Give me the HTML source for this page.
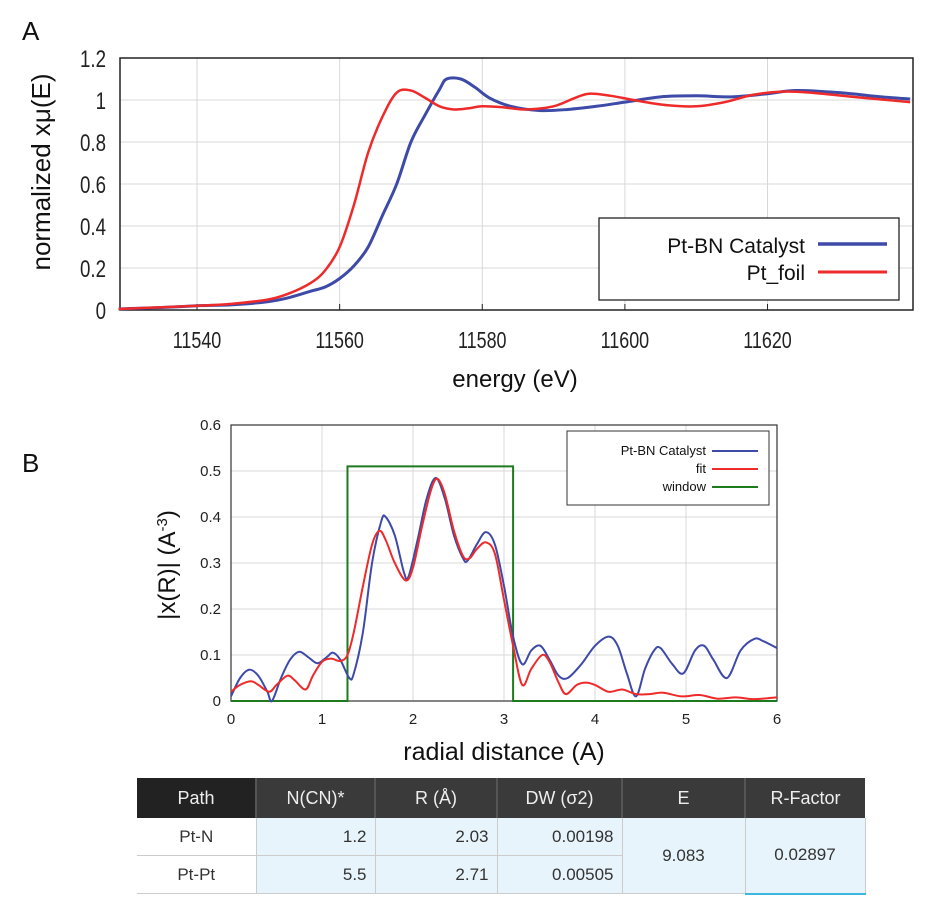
<!DOCTYPE html>
<html><head><meta charset="utf-8"><style>
body{margin:0;background:#fff;width:944px;height:915px;overflow:hidden;font-family:"Liberation Sans",sans-serif}
svg{position:absolute;left:0;top:0}
table{position:absolute;left:137px;top:778px;width:728px;table-layout:fixed;border-collapse:collapse;font-family:"Liberation Sans",sans-serif;font-size:17px;color:#333}
th{background:#3a3a3a;color:#eee;font-weight:normal;height:40px;padding:0;border-right:2px solid #555;font-size:18px}
th:first-child{background:#222}
td{height:37px;padding:0 8px 0 0;border-bottom:1px solid #ccc;border-right:1px solid #ccc;background:#e8f4fb;text-align:right}
td.p{background:#fff;text-align:center;padding:0}
td.c{text-align:center;padding:0}
</style></head><body>
<svg width="944" height="770" id="svg">
<text x="22" y="40" font-size="26" fill="#111">A</text>
<text x="22" y="472" font-size="26" fill="#111">B</text>
<g id="ga"></g>
<g id="gb"></g>
</svg>
<table>
<colgroup><col style="width:119px"><col style="width:119px"><col style="width:122px"><col style="width:125px"><col style="width:123px"><col style="width:120px"></colgroup>
<tr><th>Path</th><th>N(CN)*</th><th>R (Å)</th><th>DW (σ2)</th><th>E</th><th style="border-right:none">R-Factor</th></tr>
<tr><td class="p">Pt-N</td><td>1.2</td><td>2.03</td><td>0.00198</td><td class="c" rowspan="2">9.083</td><td class="c" rowspan="2" style="border-bottom:2px solid #3bb8e0">0.02897</td></tr>
<tr><td class="p">Pt-Pt</td><td>5.5</td><td>2.71</td><td>0.00505</td></tr>
</table>
<script>
// Chart A data
const aE_blue=[11529,11535,11540,11545,11550,11553,11556,11558,11560,11562,11564,11566,11568,11570,11572,11574,11575,11577,11579,11581,11584,11588,11592,11596,11600,11605,11610,11615,11620,11624,11630,11636,11640];
const aV_blue=[0.005,0.012,0.02,0.025,0.04,0.06,0.09,0.11,0.15,0.21,0.30,0.45,0.60,0.80,0.93,1.05,1.10,1.10,1.06,1.01,0.97,0.95,0.955,0.97,0.99,1.015,1.02,1.015,1.03,1.045,1.035,1.015,1.005];
const aE_red=[11529,11540,11545,11550,11553,11556,11558,11560,11562,11564,11566,11568,11570,11572,11574,11576,11578,11580,11583,11586,11590,11593,11595,11598,11602,11606,11610,11614,11618,11622,11626,11632,11640];
const aV_red=[0.005,0.02,0.03,0.05,0.08,0.13,0.19,0.30,0.50,0.75,0.92,1.035,1.045,1.01,0.97,0.955,0.96,0.97,0.965,0.955,0.97,1.01,1.03,1.02,0.995,0.975,0.97,0.99,1.025,1.04,1.035,1.015,0.99];
const aXTicks=[11540,11560,11580,11600,11620];
const aYTicks=[0,0.2,0.4,0.6,0.8,1,1.2];
const aYLabels=["0","0.2","0.4","0.6","0.8","1","1.2"];
// Chart B data
const bR_blue=[0,0.1,0.2,0.3,0.4,0.45,0.55,0.65,0.75,0.85,0.95,1.05,1.12,1.2,1.3,1.35,1.45,1.55,1.65,1.7,1.8,1.9,1.95,2.05,2.15,2.25,2.35,2.45,2.55,2.6,2.7,2.8,2.9,3.0,3.1,3.2,3.3,3.4,3.5,3.6,3.7,3.85,4.0,4.15,4.25,4.35,4.45,4.55,4.65,4.72,4.85,4.97,5.1,5.2,5.3,5.45,5.6,5.75,5.85,6.0];
const bV_blue=[0.01,0.05,0.068,0.055,0.02,0.0,0.05,0.09,0.107,0.095,0.082,0.095,0.105,0.09,0.05,0.06,0.15,0.30,0.39,0.40,0.36,0.28,0.27,0.35,0.44,0.485,0.44,0.36,0.31,0.305,0.34,0.367,0.34,0.25,0.14,0.08,0.11,0.12,0.09,0.055,0.05,0.08,0.12,0.14,0.12,0.06,0.01,0.07,0.11,0.115,0.08,0.06,0.11,0.12,0.09,0.05,0.11,0.135,0.13,0.115];
const bR_fit=[0,0.1,0.22,0.3,0.42,0.5,0.62,0.7,0.82,0.9,1.0,1.1,1.2,1.28,1.35,1.45,1.55,1.63,1.7,1.8,1.92,2.0,2.1,2.2,2.27,2.35,2.45,2.55,2.62,2.7,2.8,2.9,3.0,3.1,3.2,3.3,3.42,3.5,3.6,3.68,3.8,3.9,4.0,4.15,4.3,4.45,4.6,4.75,4.95,5.15,5.35,5.55,5.75,6.0];
const bV_fit=[0.02,0.035,0.043,0.035,0.02,0.035,0.055,0.045,0.025,0.055,0.085,0.092,0.087,0.1,0.15,0.25,0.34,0.37,0.35,0.30,0.262,0.29,0.38,0.46,0.483,0.45,0.37,0.315,0.31,0.33,0.345,0.32,0.22,0.12,0.035,0.07,0.1,0.085,0.04,0.015,0.035,0.04,0.035,0.02,0.025,0.015,0.015,0.018,0.01,0.013,0.005,0.008,0.004,0.008];
const bR_win=[0,1.28,1.28,3.1,3.1,6];
const bV_win=[0,0,0.51,0.51,0,0];
const bXTicks=[0,1,2,3,4,5,6];
const bYTicks=[0,0.1,0.2,0.3,0.4,0.5,0.6];

const NS="http://www.w3.org/2000/svg";
function mk(p,tag,attrs,txt){const e=document.createElementNS(NS,tag);for(const k in attrs)e.setAttribute(k,attrs[k]);if(txt!==undefined)e.textContent=txt;p.appendChild(e);return e;}
function smooth(pts){let d='M'+pts[0][0]+','+pts[0][1];for(let i=0;i<pts.length-1;i++){const p0=pts[i-1]||pts[i],p1=pts[i],p2=pts[i+1],p3=pts[i+2]||p2;const c1=[p1[0]+(p2[0]-p0[0])/6,p1[1]+(p2[1]-p0[1])/6],c2=[p2[0]-(p3[0]-p1[0])/6,p2[1]-(p3[1]-p1[1])/6];d+=` C${c1[0]},${c1[1]} ${c2[0]},${c2[1]} ${p2[0]},${p2[1]}`;}return d;}
function curve(g,xs,ys,xf,yf,col,w){return mk(g,'path',{d:smooth(xs.map((x,i)=>[xf(x),yf(ys[i])])),fill:'none',stroke:col,'stroke-width':w,'stroke-linejoin':'round'});}
function poly(g,xs,ys,xf,yf,col,w){return mk(g,'polyline',{points:xs.map((x,i)=>xf(x)+','+yf(ys[i])).join(' '),fill:'none',stroke:col,'stroke-width':w});}

// Chart A
const ga=document.getElementById('ga');
const aL=120,aR=913,aT=58,aB=310,ax0=11529.2,ax1=11640.4,ay1=1.2;
const axf=v=>aL+(v-ax0)/(ax1-ax0)*(aR-aL);
const ayf=v=>aB-v/ay1*(aB-aT);
aXTicks.forEach(t=>{
 const g=mk(ga,'line',{x1:axf(t),x2:axf(t),y1:aT,y2:aB,stroke:'#d8d8d8','stroke-width':1});
 
 
 const tk=mk(ga,'line',{x1:axf(t),x2:axf(t),y1:aB,y2:aB-6,stroke:'#222'});
 
 
 const tx=mk(ga,'text',{x:axf(t),y:348,'font-size':23,'text-anchor':'middle',fill:'#222',transform:`translate(${axf(t)},0) scale(0.78,1) translate(${-axf(t)},0)`},t);
 
 
});
aYTicks.forEach((t,i)=>{
 const g=mk(ga,'line',{x1:aL,x2:aR,y1:ayf(t),y2:ayf(t),stroke:'#d8d8d8'});
 
 
 const tx=mk(ga,'text',{x:106,y:ayf(t)+9,'font-size':24,'text-anchor':'end',fill:'#222',transform:`translate(106,0) scale(0.78,1) translate(-106,0)`},aYLabels[i]);
 
 
});
const af=mk(ga,'rect',{x:aL,y:aT,width:aR-aL,height:aB-aT,fill:'none',stroke:'#222','stroke-width':1.5});


const ab=curve(ga,aE_blue,aV_blue,axf,ayf,'#3d4aa8',3);


const ar=curve(ga,aE_red,aV_red,axf,ayf,'#ee2a2a',2.5);


const alg=mk(ga,'rect',{x:599,y:218,width:300,height:82,fill:'#fff',stroke:'#222','stroke-width':1.3});


const at1=mk(ga,'text',{x:805,y:253,'font-size':21,'text-anchor':'end',fill:'#111'},'Pt-BN Catalyst');


mk(ga,'line',{x1:818,x2:887,y1:244,y2:244,stroke:'#3d4aa8','stroke-width':3.5});
const at2=mk(ga,'text',{x:805,y:280,'font-size':21,'text-anchor':'end',fill:'#111'},'Pt_foil');


mk(ga,'line',{x1:818,x2:887,y1:272,y2:272,stroke:'#ee2a2a','stroke-width':3});
const ayt=mk(ga,'text',{x:0,y:0,'font-size':26,'text-anchor':'middle',fill:'#111',transform:'translate(50,172) rotate(-90)'},'normalized xμ(E)');


const axt=mk(ga,'text',{x:515,y:387,'font-size':24,'text-anchor':'middle',fill:'#111'},'energy (eV)');



// Chart B
const gb=document.getElementById('gb');
const bL=231,bRr=777,bT=425,bB=701;
const bxf=v=>bL+v/6*(bRr-bL);
const byf=v=>bB-v/0.6*(bB-bT);
bXTicks.forEach(t=>{
 const g=mk(gb,'line',{x1:bxf(t),x2:bxf(t),y1:bT,y2:bB,stroke:'#d8d8d8'});
 
 
 const tx=mk(gb,'text',{x:bxf(t),y:724,'font-size':15,'text-anchor':'middle',fill:'#222'},t);
 
 
});
bYTicks.forEach(t=>{
 const g=mk(gb,'line',{x1:bL,x2:bRr,y1:byf(t),y2:byf(t),stroke:'#d8d8d8'});
 
 
 const tx=mk(gb,'text',{x:221,y:byf(t)+5,'font-size':15,'text-anchor':'end',fill:'#222'},t===0?'0':t.toFixed(1));
 
 
});
const bfr=mk(gb,'rect',{x:bL,y:bT,width:bRr-bL,height:bB-bT,fill:'none',stroke:'#333','stroke-width':1.2});


const bw=poly(gb,bR_win,bV_win,bxf,byf,'#1d7a1d',2);


const bbl=curve(gb,bR_blue,bV_blue,bxf,byf,'#3d4aa8',2);


const bfit=curve(gb,bR_fit,bV_fit,bxf,byf,'#ee2a2a',2);


const blg=mk(gb,'rect',{x:567,y:431,width:202,height:74,fill:'#fff',stroke:'#333','stroke-width':1});


[['Pt-BN Catalyst','#3d4aa8',455],['fit','#ee2a2a',473],['window','#1d7a1d',491]].forEach(e=>{
 const t=mk(gb,'text',{x:706,y:e[2],'font-size':13,'text-anchor':'end',fill:'#111'},e[0]);
 
 
 mk(gb,'line',{x1:712,x2:758,y1:e[2]-4,y2:e[2]-4,stroke:e[1],'stroke-width':2});
});
const byt=mk(gb,'text',{x:0,y:0,'font-size':24,'text-anchor':'middle',fill:'#111',transform:'translate(175,565) rotate(-90)'});
byt.innerHTML='|x(R)|  (A<tspan dy="-8" font-size="15">-3</tspan><tspan dy="8">)</tspan>';


const bxt=mk(gb,'text',{x:504,y:760,'font-size':25,'text-anchor':'middle',fill:'#111'},'radial distance (A)');


</script>
</body></html>
